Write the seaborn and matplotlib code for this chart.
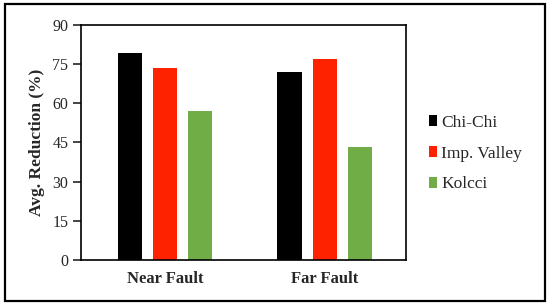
import pandas as pd
import matplotlib.pyplot as plt
import seaborn as sns
from matplotlib.patches import Rectangle

# values
groups = ["Near Fault", "Far Fault"]
events = ["Chi-Chi", "Imp. Valley", "Kolcci"]
chichi = [79.3, 72.0]
imp_valley = [73.5, 77.0]
kolcci = [57.0, 43.2]
colors = ["#000000", "#FF2200", "#70AD47"]
yticks = [0, 15, 30, 45, 60, 75, 90]

df = pd.DataFrame({
    "fault": groups * 3,
    "event": [e for e in events for _ in groups],
    "reduction": chichi + imp_valley + kolcci,
})

sns.set_style("white")
plt.rcParams['font.family'] = ['Liberation Serif', 'DejaVu Serif']

fig = plt.figure(figsize=(5.5, 3.07), dpi=100)
ax = fig.add_axes([0.147, 0.153, 0.591, 0.766])

sns.barplot(data=df, x="fault", y="reduction", hue="event",
            palette=colors, width=0.66, gap=0.31, ax=ax,
            saturation=1, edgecolor="none")

ax.set_xlim(-0.53, 1.51)
ax.set_ylim(0, 90)
ax.set_yticks(yticks)
ax.set_xlabel("")
ax.set_ylabel("Avg. Reduction (%)", fontsize=12.5, fontweight="bold", labelpad=5)
ax.tick_params(axis='y', direction='out', length=6, width=1.2, labelsize=11.5,
               left=True, pad=3)
ax.tick_params(axis='x', length=0, labelsize=12, pad=8)
for lab in ax.get_xticklabels():
    lab.set_fontweight("bold")
for s in ax.spines.values():
    s.set_visible(True)
    s.set_color("black")
    s.set_linewidth(1.2)

ax.legend(loc="center left", bbox_to_anchor=(0.752, 0.5),
          bbox_transform=fig.transFigure, frameon=False, fontsize=12.5,
          handlelength=0.45, handleheight=0.6, handletextpad=0.25,
          labelspacing=0.85)

fig.add_artist(Rectangle((0.009, 0.018), 0.982, 0.97, transform=fig.transFigure,
                         fill=False, edgecolor="black", linewidth=1.6))

fig.savefig("out.png", dpi=100)
